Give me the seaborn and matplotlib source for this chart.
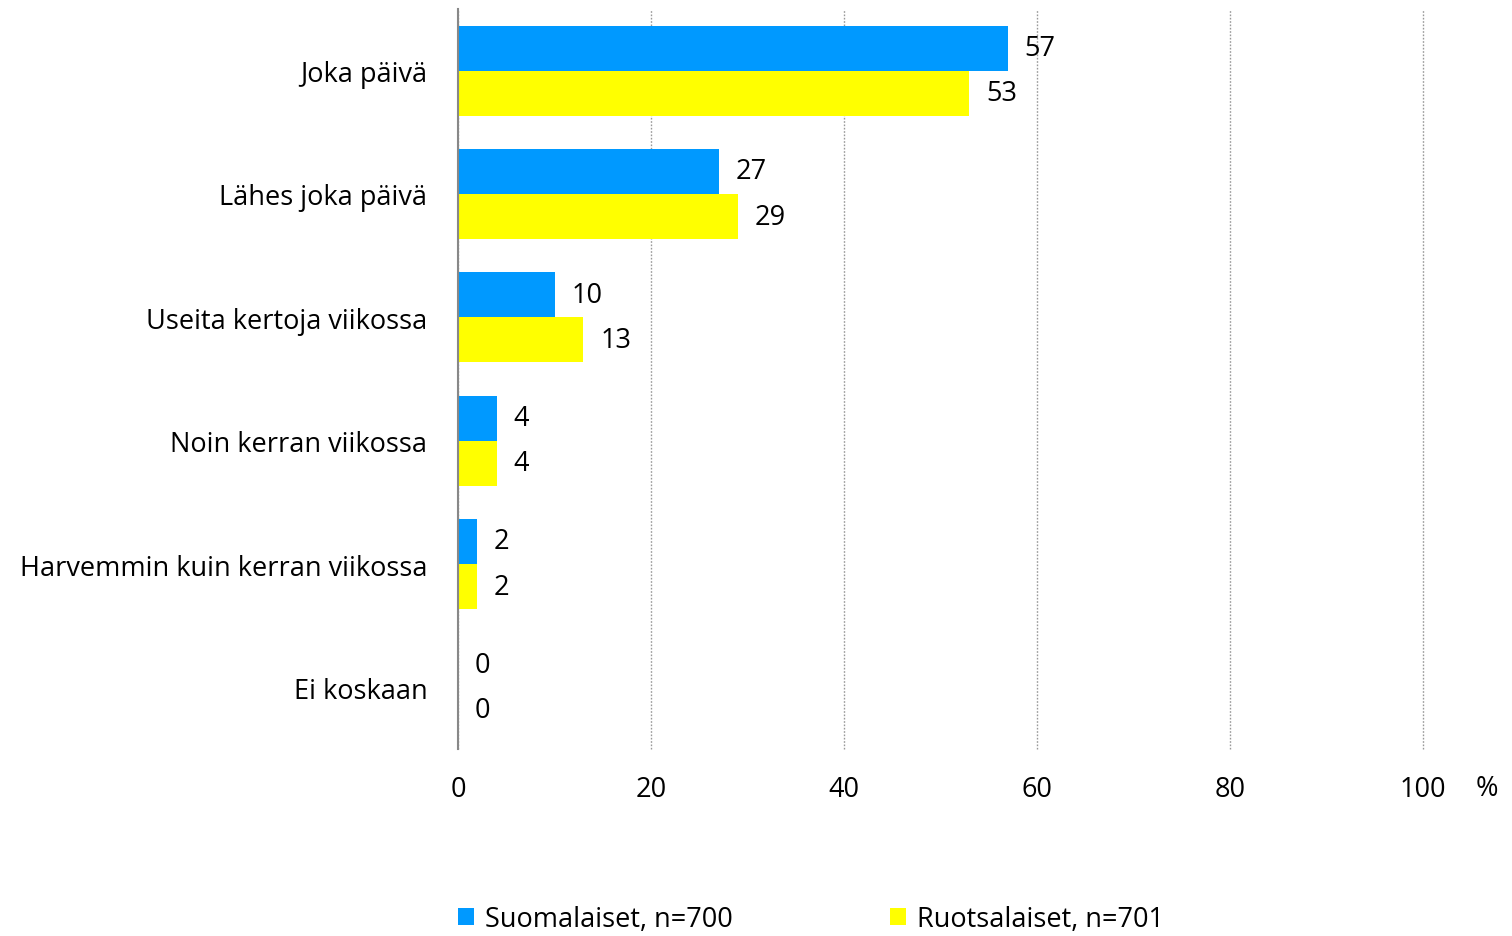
import matplotlib
matplotlib.use("Agg")
import matplotlib.pyplot as plt
import seaborn as sns
import pandas as pd
from matplotlib.patches import Patch

categories = ["Joka päivä", "Lähes joka päivä", "Useita kertoja viikossa",
              "Noin kerran viikossa", "Harvemmin kuin kerran viikossa", "Ei koskaan"]
series_names = ["Suomalaiset, n=700", "Ruotsalaiset, n=701"]
suomalaiset = [57, 27, 10, 4, 2, 0]
ruotsalaiset = [53, 29, 13, 4, 2, 0]
colors = ["#0099FF", "#FFFF00"]
x_ticks = [0, 20, 40, 60, 80, 100]

df = pd.DataFrame({
    "cat": categories * 2,
    "series": [series_names[0]] * len(categories) + [series_names[1]] * len(categories),
    "value": suomalaiset + ruotsalaiset,
})

sns.set_style("white")
plt.rcParams["font.family"] = ["Open Sans", "DejaVu Sans"]
plt.rcParams["text.color"] = "black"
plt.rcParams["xtick.color"] = "black"
plt.rcParams["ytick.color"] = "black"

FS = 19.5

fig = plt.figure(figsize=(15.12, 9.37), dpi=100)
ax = fig.add_axes([458 / 1512, 1 - 750 / 937, (1423 - 458) / 1512, (750 - 10) / 937])

sns.barplot(data=df, y="cat", x="value", hue="series", order=categories,
            hue_order=series_names, palette=colors, width=0.73, gap=0,
            saturation=1, orient="h", ax=ax, legend=False, linewidth=0)

for cont in ax.containers:
    ax.bar_label(cont, labels=[f"{v:.0f}" for v in cont.datavalues],
                 padding=12, fontsize=FS, color="black")

ax.set_xlim(0, 100)
ax.set_ylim(5.5, -0.5)
ax.set_xticks(x_ticks)
ax.set_xticklabels([str(t) for t in x_ticks], fontsize=FS)
ax.tick_params(axis="x", length=0, pad=19, labelcolor="black")
ax.tick_params(axis="y", length=0, pad=22, labelsize=FS, labelcolor="black")
ax.set_xlabel("")
ax.set_ylabel("")
for s in ["top", "right", "bottom"]:
    ax.spines[s].set_visible(False)
ax.spines["left"].set_color("#888888")
ax.spines["left"].set_linewidth(1.5)
ax.grid(axis="x", color="#999999", linestyle=(0, (1.2, 1.2)), linewidth=1)
for gl in ax.get_xgridlines():
    gl.set_clip_on(False)
ax.set_axisbelow(True)

ax.text(1.0 + (1487 - 1423) / (1423 - 458), -(789 - 750) / (750 - 10), "%",
        transform=ax.transAxes, ha="center", va="center", fontsize=FS)

handles = [Patch(facecolor=c, edgecolor="none") for c in colors]
fig.legend(handles, series_names, loc="center", bbox_to_anchor=(811 / 1512, 1 - 920 / 937),
           ncol=2, frameon=False, fontsize=FS, handlelength=0.6, handleheight=0.6,
           handletextpad=0.4, columnspacing=5.8)

fig.savefig("out.png", dpi=100)
